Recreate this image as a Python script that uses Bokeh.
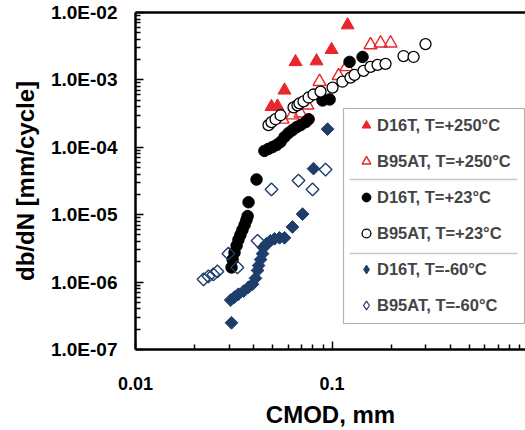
import numpy as np
from bokeh.plotting import figure
from bokeh.models import (LogAxis, FixedTicker, Legend, LegendItem, BoxAnnotation,
                          Range1d)
from bokeh.embed import file_html
from bokeh.resources import INLINE

# ---------------- data ----------------
d16t_250_x = [0.0492, 0.0528, 0.0573, 0.0652, 0.0834, 0.0995, 0.120]
d16t_250_y = [4.0e-4, 4.05e-4, 7.0e-4, 1.85e-3, 1.9e-3, 2.8e-3, 6.5e-3]

b95at_250_x = [0.0560, 0.0629, 0.0691, 0.0750, 0.0864, 0.108, 0.1185, 0.157, 0.1766, 0.1985]
b95at_250_y = [2.6e-4, 3.0e-4, 3.2e-4, 4.2e-4, 9.4e-4, 1.15e-3, 1.56e-3, 3.3e-3, 3.5e-3, 3.5e-3]

d16t_23_x = [0.0308, 0.0312, 0.0319, 0.0327, 0.0334, 0.0342, 0.0350, 0.0359, 0.0367, 0.0372,
             0.0376, 0.0413, 0.0453, 0.0475, 0.0498, 0.0522, 0.0547, 0.0573, 0.0601, 0.0629,
             0.0660, 0.0691, 0.0733, 0.0760, 0.0895, 0.0972, 0.1228, 0.143]
d16t_23_y = [1.65e-6, 2.16e-6, 2.74e-6, 3.47e-6, 4.25e-6, 5.02e-6, 5.94e-6, 7.05e-6, 8.34e-6, 9.53e-6,
             1.53e-5, 3.33e-5, 8.85e-5, 9.48e-5, 1.01e-4, 1.08e-4, 1.2e-4, 1.42e-4, 1.63e-4, 1.8e-4,
             1.99e-4, 2.13e-4, 2.36e-4, 2.61e-4, 4.96e-4, 5.13e-4, 1.85e-3, 2.19e-3]

b95at_23_x = [0.0475, 0.0492, 0.0516, 0.0547, 0.0637, 0.0667, 0.0683, 0.0716, 0.0760, 0.0805,
              0.0874, 0.1006, 0.113, 0.1242, 0.1302, 0.1446, 0.157, 0.1705, 0.1872, 0.2312,
              0.260, 0.299]
b95at_23_y = [2.13e-4, 2.36e-4, 2.61e-4, 2.99e-4, 3.91e-4, 4.19e-4, 4.48e-4, 4.79e-4, 5.48e-4, 6.07e-4,
              6.71e-4, 7.69e-4, 9.4e-4, 1.08e-3, 1.19e-3, 1.36e-3, 1.56e-3, 1.67e-3, 1.73e-3, 2.26e-3,
              2.19e-3, 3.4e-3]

d16t_m60_x = [0.0308, 0.0305, 0.0319, 0.0334, 0.0355, 0.0376, 0.0394, 0.0408, 0.0418, 0.0423,
              0.0433, 0.0443, 0.0448, 0.0464, 0.0486, 0.0510, 0.0541, 0.0573, 0.0629, 0.0708,
              0.0805, 0.0949]
d16t_m60_y = [2.49e-7, 5.41e-7, 5.98e-7, 6.62e-7, 7.33e-7, 8.39e-7, 9.29e-7, 1.14e-6, 1.49e-6, 1.76e-6,
              2.16e-6, 2.64e-6, 3.24e-6, 3.71e-6, 4.1e-6, 4.39e-6, 4.54e-6, 4.54e-6, 6.58e-6, 1.02e-5,
              4.82e-5, 1.86e-4]

b95at_m60_x = [0.0222, 0.0235, 0.0249, 0.0261, 0.0297, 0.0330, 0.0418, 0.0492, 0.0675, 0.0796, 0.0927]
b95at_m60_y = [1.1e-6, 1.22e-6, 1.3e-6, 1.44e-6, 2.64e-6, 1.65e-6, 4.1e-6, 2.37e-5, 3.21e-5, 2.37e-5, 4.67e-5]

series_labels = ["D16T, T=+250°C", "B95AT, T=+250°C", "D16T, T=+23°C",
                 "B95AT, T=+23°C", "D16T, T=-60°C", "B95AT, T=-60°C"]

x_ticks = [0.01, 0.1, 1.0]
x_tick_labels = ["0.01", "0.1", "1"]
y_ticks = [1e-7, 1e-6, 1e-5, 1e-4, 1e-3, 1e-2]
y_tick_labels = ["1.0E-07", "1.0E-06", "1.0E-05", "1.0E-04", "1.0E-03", "1.0E-02"]

x_title = "CMOD, mm"
y_title = "db/dN [mm/cycle]"

# ---------------- styling ----------------
RED = "#e8262b"
NAVY = "#1f3d6b"
FONT = "Liberation Sans"

p = figure(width=525, height=430, x_axis_type="log", y_axis_type="log",
           x_range=Range1d(0.01, 0.965), y_range=Range1d(1e-7, 1e-2),
           output_backend="svg", toolbar_location=None,
           min_border_left=135, min_border_right=0, min_border_top=12, min_border_bottom=77)
p.outline_line_color = None
p.xgrid.visible = False
p.ygrid.visible = False
p.background_fill_color = "white"

r1 = p.scatter(d16t_250_x, d16t_250_y, marker="triangle", size=13,
               fill_color=RED, line_color=RED)
r2 = p.scatter(b95at_250_x, b95at_250_y, marker="triangle", size=13,
               fill_alpha=0, line_color=RED, line_width=1.4)
r3 = p.scatter(d16t_23_x, d16t_23_y, marker="circle", size=11.5,
               fill_color="black", line_color="black")
r4 = p.scatter(b95at_23_x, b95at_23_y, marker="circle", size=11,
               fill_color="white", line_color="black", line_width=1.3)
r5 = p.scatter(d16t_m60_x, d16t_m60_y, marker="square", angle=np.pi / 4, size=9,
               fill_color=NAVY, line_color=NAVY)
r6 = p.scatter(b95at_m60_x, b95at_m60_y, marker="square", angle=np.pi / 4, size=9,
               fill_alpha=0, line_color=NAVY, line_width=1.4)
# legend glyphs for the diamond series (the legend does not rotate markers)
l5 = p.scatter(d16t_m60_x, d16t_m60_y, marker="diamond", size=0,
               fill_color=NAVY, line_color=NAVY)
l6 = p.scatter(b95at_m60_x, b95at_m60_y, marker="diamond", size=0,
               fill_color="white", line_color=NAVY, line_width=1.2)

# axes
def minor_of(ticks):
    return [m * t for t in ticks[:-1] for m in range(2, 10)]

xa = p.below[0]
ya = p.left[0]
xa.ticker = FixedTicker(ticks=x_ticks, minor_ticks=minor_of(x_ticks))
ya.ticker = FixedTicker(ticks=y_ticks, minor_ticks=minor_of(y_ticks))
xa.major_label_overrides = dict(zip(x_ticks, x_tick_labels))
ya.major_label_overrides = dict(zip(y_ticks, y_tick_labels))
xa.axis_label = x_title
ya.axis_label = y_title

for ax in (xa, ya):
    ax.axis_line_width = 2.5
    ax.axis_line_color = "black"
    ax.major_tick_in = 8
    ax.major_tick_out = 0
    ax.minor_tick_in = 5
    ax.minor_tick_out = 0
    ax.major_tick_line_width = 1.5
    ax.minor_tick_line_width = 1.5
    ax.major_label_text_font = FONT
    ax.major_label_text_font_style = "bold"
    ax.major_label_text_color = "black"
    ax.axis_label_text_font = FONT
    ax.axis_label_text_font_style = "bold"
    ax.axis_label_text_font_size = "24px"
    ax.axis_label_text_color = "black"

xa.major_label_text_font_size = "18px"
ya.major_label_text_font_size = "19px"
xa.major_label_standoff = 27
xa.axis_label_standoff = 8
ya.major_label_standoff = 18
ya.axis_label_standoff = 9

top = LogAxis(ticker=FixedTicker(ticks=[], minor_ticks=[]), axis_line_width=2.5,
              major_tick_in=0, major_tick_out=0, minor_tick_in=0, minor_tick_out=0,
              major_label_standoff=0)
p.add_layout(top, "above")

# legend frame and separators (screen units relative to the plot frame)
p.add_layout(BoxAnnotation(left=208, right=389, bottom=26, top=241,
                           left_units="screen", right_units="screen",
                           bottom_units="screen", top_units="screen",
                           fill_color="white", fill_alpha=1,
                           line_color="black", line_width=1.2))
for yy in (170, 96):
    p.add_layout(BoxAnnotation(left=214, right=382, bottom=yy, top=yy,
                               left_units="screen", right_units="screen",
                               bottom_units="screen", top_units="screen",
                               fill_alpha=0, line_color="#444444", line_width=1.3))

legend = Legend(items=[
    LegendItem(label=series_labels[0], renderers=[r1]),
    LegendItem(label=series_labels[1], renderers=[r2]),
    LegendItem(label=series_labels[2], renderers=[r3]),
    LegendItem(label=series_labels[3], renderers=[r4]),
    LegendItem(label=series_labels[4], renderers=[l5]),
    LegendItem(label=series_labels[5], renderers=[l6]),
], location=(220, 32), orientation="vertical", margin=0, padding=0, spacing=12,
    glyph_width=22, glyph_height=24, label_standoff=0, label_height=20,
    border_line_alpha=0, background_fill_alpha=0,
    label_text_font=FONT, label_text_font_style="bold", label_text_font_size="16.5px")
p.add_layout(legend)

open("out.html", "w").write(file_html(p, INLINE))
